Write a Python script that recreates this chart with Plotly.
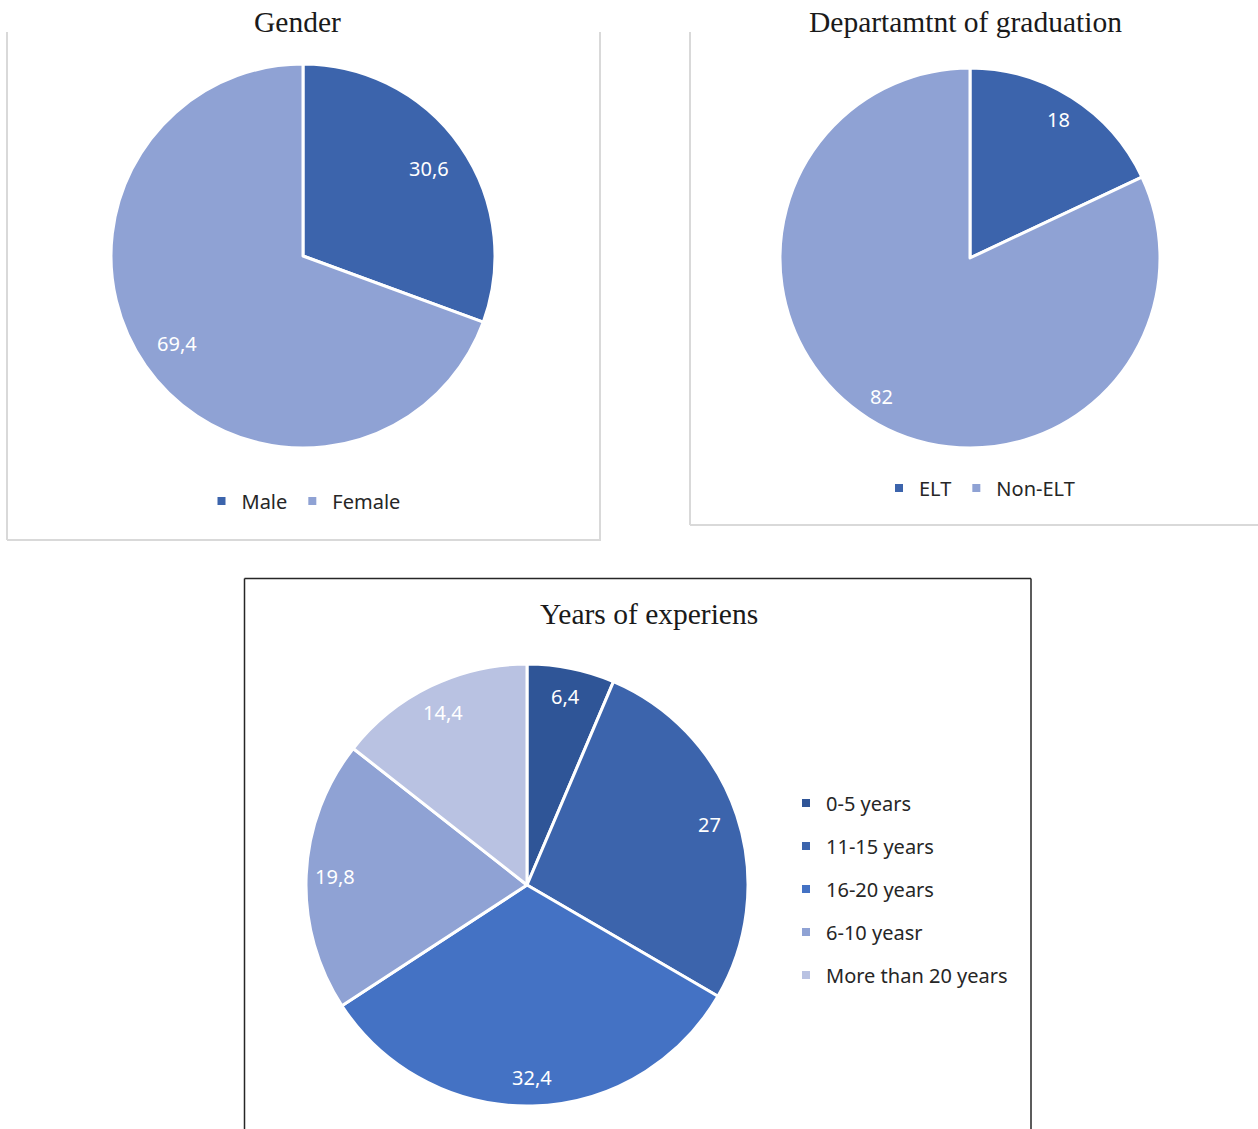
import math
import plotly.graph_objects as go

W, H = 1258, 1129

# ---- data ----
gender_labels = ["Male", "Female"]
gender_values = [30.6, 69.4]
gender_colors = ["#3C64AC", "#8FA2D4"]

dept_labels = ["ELT", "Non-ELT"]
dept_values = [18, 82]
dept_colors = ["#3C64AC", "#8FA2D4"]

years_labels = ["0-5 years", "11-15 years", "16-20 years", "6-10 yeasr", "More than 20 years"]
years_values = [6.4, 27, 32.4, 19.8, 14.4]
years_colors = ["#2F5597", "#3C64AC", "#4472C4", "#8FA2D4", "#B9C2E2"]

titles = ["Gender", "Departamtnt of graduation", "Years of experiens"]


def px(x):
    return x / W


def py(y):
    return 1 - y / H


def dom(cx, cy, r):
    return dict(x=[px(cx - r), px(cx + r)], y=[py(cy + r), py(cy - r)])


def fmt(v):
    s = ("%g" % v)
    return s.replace(".", ",")


SANS = "Noto Sans"
SERIF = "Liberation Serif"

fig = go.Figure()

# (labels, values, colors, centre x, centre y, radius, label radial fraction)
pies = [
    (gender_labels, gender_values, gender_colors, 303, 256, 192, 0.80),
    (dept_labels, dept_values, dept_colors, 970, 258, 190, 0.865),
    (years_labels, years_values, years_colors, 527, 885, 221, 0.87),
]
annotations = []
for labels, values, colors, cx, cy, r, frac in pies:
    fig.add_trace(go.Pie(
        labels=labels, values=values, sort=False, direction="clockwise", rotation=0,
        marker=dict(colors=colors, line=dict(color="white", width=3)),
        textinfo="none",
        domain=dom(cx, cy, r), showlegend=False, hoverinfo="label+value",
    ))
    total = sum(values)
    cum = 0.0
    for v in values:
        mid = (cum + v / 2) / total * 2 * math.pi
        cum += v
        lx = cx + frac * r * math.sin(mid)
        ly = cy - frac * r * math.cos(mid)
        annotations.append(dict(text=fmt(v), x=px(lx), y=py(ly), xref="paper", yref="paper",
                                showarrow=False, xanchor="center", yanchor="middle",
                                font=dict(family=SANS, size=20, color="white")))

# legend entries
legend_sets = [
    (gender_labels, gender_colors, "legend"),
    (dept_labels, dept_colors, "legend2"),
    (years_labels, years_colors, "legend3"),
]
for labels, colors, lg in legend_sets:
    for lab, col in zip(labels, colors):
        fig.add_trace(go.Scatter(
            x=[None], y=[None], mode="markers", name=lab,
            marker=dict(symbol="square", size=8, color=col),
            legend=lg, legendgroup=lg + lab, showlegend=True,
        ))

legend_font = dict(family=SANS, size=20, color="#262626")

shapes = []
line_light = dict(color="#D9D9D9", width=2)
# Gender panel
shapes.append(dict(type="line", xref="paper", yref="paper", x0=px(7), x1=px(7), y0=py(32), y1=py(540), line=line_light))
shapes.append(dict(type="line", xref="paper", yref="paper", x0=px(7), x1=px(601), y0=py(540), y1=py(540), line=line_light))
shapes.append(dict(type="line", xref="paper", yref="paper", x0=px(600), x1=px(600), y0=py(32), y1=py(540), line=line_light))
# Department panel
shapes.append(dict(type="line", xref="paper", yref="paper", x0=px(690), x1=px(690), y0=py(32), y1=py(525), line=line_light))
shapes.append(dict(type="line", xref="paper", yref="paper", x0=px(690), x1=px(1258), y0=py(525), y1=py(525), line=line_light))
# Years panel
line_dark = dict(color="#262626", width=1.5)
shapes.append(dict(type="line", xref="paper", yref="paper", x0=px(244.5), x1=px(244.5), y0=py(578.5), y1=py(1129), line=line_dark))
shapes.append(dict(type="line", xref="paper", yref="paper", x0=px(244.5), x1=px(1031), y0=py(578.5), y1=py(578.5), line=line_dark))
shapes.append(dict(type="line", xref="paper", yref="paper", x0=px(1031), x1=px(1031), y0=py(578.5), y1=py(1129), line=line_dark))

title_pos = [(297, 22), (966, 22), (649, 614)]
for t, (x, y) in zip(titles, title_pos):
    annotations.append(dict(text=t, x=px(x), y=py(y), xref="paper", yref="paper",
                            showarrow=False, xanchor="center", yanchor="middle",
                            font=dict(family=SERIF, size=29.5, color="#1a1a1a")))

fig.update_layout(
    width=W, height=H, margin=dict(l=0, r=0, t=0, b=0),
    paper_bgcolor="white", plot_bgcolor="white",
    separators=", ",
    xaxis=dict(visible=False), yaxis=dict(visible=False),
    shapes=shapes, annotations=annotations,
    legend=dict(orientation="h", x=px(225.5 - 24), xanchor="left", y=py(501), yanchor="middle",
                font=legend_font, bgcolor="rgba(0,0,0,0)"),
    legend2=dict(orientation="h", x=px(903 - 24), xanchor="left", y=py(488), yanchor="middle",
                 font=legend_font, bgcolor="rgba(0,0,0,0)"),
    legend3=dict(orientation="v", x=px(810 - 24), xanchor="left", y=py(889), yanchor="middle",
                 font=legend_font, bgcolor="rgba(0,0,0,0)", tracegroupgap=14),
)

fig.write_html("out.html")
